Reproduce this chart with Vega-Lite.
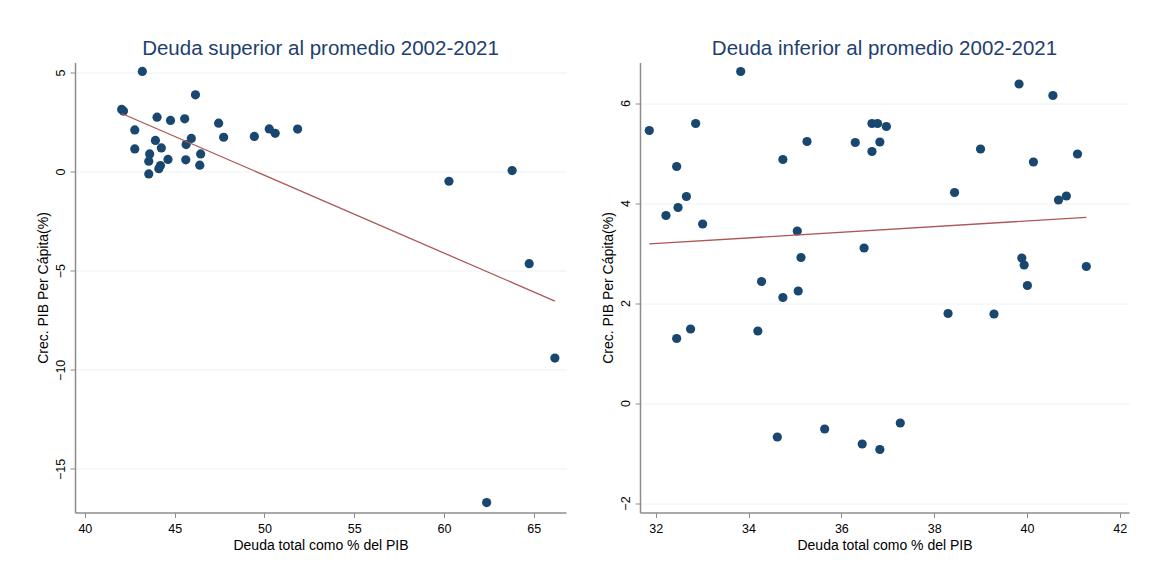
{
  "$schema": "https://vega.github.io/schema/vega-lite/v6.json",
  "background": "white",
  "padding": {"left": 36, "top": 38.5, "right": 10, "bottom": 10},
  "spacing": 35,
  "config": {
    "font": "Liberation Sans",
    "view": {"stroke": null},
    "title": {"font": "Liberation Sans", "fontSize": 20.5, "fontWeight": "normal", "color": "#1e3f6f", "offset": 3, "anchor": "middle"},
    "axis": {
      "labelFont": "Liberation Sans", "titleFont": "Liberation Sans",
      "labelFontSize": 12.5, "titleFontSize": 14, "titleFontWeight": "normal",
      "labelColor": "#000000", "titleColor": "#000000",
      "domainColor": "#8c8c8c", "domainWidth": 1.5,
      "tickColor": "#8c8c8c", "tickSize": 5, "tickWidth": 1,
      "gridColor": "#eaf2f3", "gridWidth": 1
    }
  },
  "datasets": {
    "sup": [
      {"deuda": 43.2, "crec": 5.05}, {"deuda": 46.16, "crec": 3.87}, {"deuda": 42.05, "crec": 3.13}, {"deuda": 42.15, "crec": 3.05},
      {"deuda": 44.02, "crec": 2.74}, {"deuda": 44.77, "crec": 2.58}, {"deuda": 45.56, "crec": 2.66}, {"deuda": 42.78, "crec": 2.1},
      {"deuda": 47.45, "crec": 2.44}, {"deuda": 47.73, "crec": 1.73}, {"deuda": 49.44, "crec": 1.77}, {"deuda": 50.27, "crec": 2.15},
      {"deuda": 50.6, "crec": 1.93}, {"deuda": 51.85, "crec": 2.14}, {"deuda": 43.93, "crec": 1.57}, {"deuda": 44.26, "crec": 1.19},
      {"deuda": 45.93, "crec": 1.67}, {"deuda": 45.64, "crec": 1.36}, {"deuda": 46.45, "crec": 0.89}, {"deuda": 42.78, "crec": 1.14},
      {"deuda": 43.61, "crec": 0.89}, {"deuda": 43.56, "crec": 0.52}, {"deuda": 44.63, "crec": 0.61}, {"deuda": 44.21, "crec": 0.3},
      {"deuda": 44.12, "crec": 0.14}, {"deuda": 45.62, "crec": 0.59}, {"deuda": 46.4, "crec": 0.32}, {"deuda": 43.56, "crec": -0.12},
      {"deuda": 60.28, "crec": -0.49}, {"deuda": 63.8, "crec": 0.05}, {"deuda": 64.75, "crec": -4.65}, {"deuda": 66.18, "crec": -9.41},
      {"deuda": 62.38, "crec": -16.7}
    ],
    "inf": [
      {"deuda": 31.86, "crec": 5.45}, {"deuda": 33.83, "crec": 6.63}, {"deuda": 32.86, "crec": 5.59}, {"deuda": 32.45, "crec": 4.73},
      {"deuda": 32.22, "crec": 3.75}, {"deuda": 32.48, "crec": 3.91}, {"deuda": 32.66, "crec": 4.13}, {"deuda": 33.01, "crec": 3.58},
      {"deuda": 34.74, "crec": 4.87}, {"deuda": 35.26, "crec": 5.23}, {"deuda": 36.3, "crec": 5.21}, {"deuda": 36.66, "crec": 5.59},
      {"deuda": 36.78, "crec": 5.59}, {"deuda": 36.97, "crec": 5.53}, {"deuda": 36.66, "crec": 5.03}, {"deuda": 36.83, "crec": 5.22},
      {"deuda": 35.05, "crec": 3.44}, {"deuda": 36.49, "crec": 3.1}, {"deuda": 39.83, "crec": 6.38}, {"deuda": 40.56, "crec": 6.15},
      {"deuda": 39.0, "crec": 5.08}, {"deuda": 40.14, "crec": 4.82}, {"deuda": 41.09, "crec": 4.98}, {"deuda": 38.44, "crec": 4.21},
      {"deuda": 40.68, "crec": 4.06}, {"deuda": 40.85, "crec": 4.14}, {"deuda": 35.13, "crec": 2.91}, {"deuda": 34.28, "crec": 2.43},
      {"deuda": 34.74, "crec": 2.11}, {"deuda": 35.07, "crec": 2.24}, {"deuda": 32.45, "crec": 1.29}, {"deuda": 32.75, "crec": 1.48},
      {"deuda": 34.2, "crec": 1.44}, {"deuda": 34.62, "crec": -0.68}, {"deuda": 35.64, "crec": -0.52}, {"deuda": 36.45, "crec": -0.82},
      {"deuda": 36.83, "crec": -0.93}, {"deuda": 39.89, "crec": 2.9}, {"deuda": 39.94, "crec": 2.76}, {"deuda": 41.28, "crec": 2.73},
      {"deuda": 40.01, "crec": 2.35}, {"deuda": 38.3, "crec": 1.79}, {"deuda": 39.29, "crec": 1.78}, {"deuda": 37.27, "crec": -0.4}
    ]
  },
  "hconcat": [
    {
      "title": "Deuda superior al promedio 2002-2021",
      "width": 491, "height": 450,
      "data": {"name": "sup"},
      "layer": [
        {
          "mark": {"type": "circle", "size": 85, "opacity": 1, "color": "#1a476f"},
          "encoding": {
            "x": {"field": "deuda", "type": "quantitative", "title": "Deuda total como % del PIB",
                  "scale": {"domain": [39.45, 66.8], "nice": false, "zero": false},
                  "axis": {"values": [40, 45, 50, 55, 60, 65], "grid": false, "labelPadding": 5, "titlePadding": 3}},
            "y": {"field": "crec", "type": "quantitative", "title": "Crec. PIB Per Cápita(%)",
                  "scale": {"domain": [-17.2, 5.5], "nice": false, "zero": false},
                  "axis": {"values": [5, 0, -5, -10, -15], "grid": true, "labelAngle": -90, "labelPadding": 3, "titlePadding": 4}}
          }
        },
        {
          "transform": [{"regression": "crec", "on": "deuda"}],
          "mark": {"type": "line", "color": "#ad5856", "strokeWidth": 1.3},
          "encoding": {
            "x": {"field": "deuda", "type": "quantitative"},
            "y": {"field": "crec", "type": "quantitative"}
          }
        }
      ]
    },
    {
      "title": "Deuda inferior al promedio 2002-2021",
      "width": 489, "height": 450,
      "data": {"name": "inf"},
      "layer": [
        {
          "mark": {"type": "circle", "size": 85, "opacity": 1, "color": "#1a476f"},
          "encoding": {
            "x": {"field": "deuda", "type": "quantitative", "title": "Deuda total como % del PIB",
                  "scale": {"domain": [31.66, 42.2], "nice": false, "zero": false},
                  "axis": {"values": [32, 34, 36, 38, 40, 42], "grid": false, "labelPadding": 5, "titlePadding": 3}},
            "y": {"field": "crec", "type": "quantitative", "title": "Crec. PIB Per Cápita(%)",
                  "scale": {"domain": [-2.19, 6.81], "nice": false, "zero": false},
                  "axis": {"values": [6, 4, 2, 0, -2], "grid": true, "labelAngle": -90, "labelPadding": 3, "titlePadding": 4}}
          }
        },
        {
          "transform": [{"regression": "crec", "on": "deuda"}],
          "mark": {"type": "line", "color": "#ad5856", "strokeWidth": 1.3},
          "encoding": {
            "x": {"field": "deuda", "type": "quantitative"},
            "y": {"field": "crec", "type": "quantitative"}
          }
        }
      ]
    }
  ]
}
